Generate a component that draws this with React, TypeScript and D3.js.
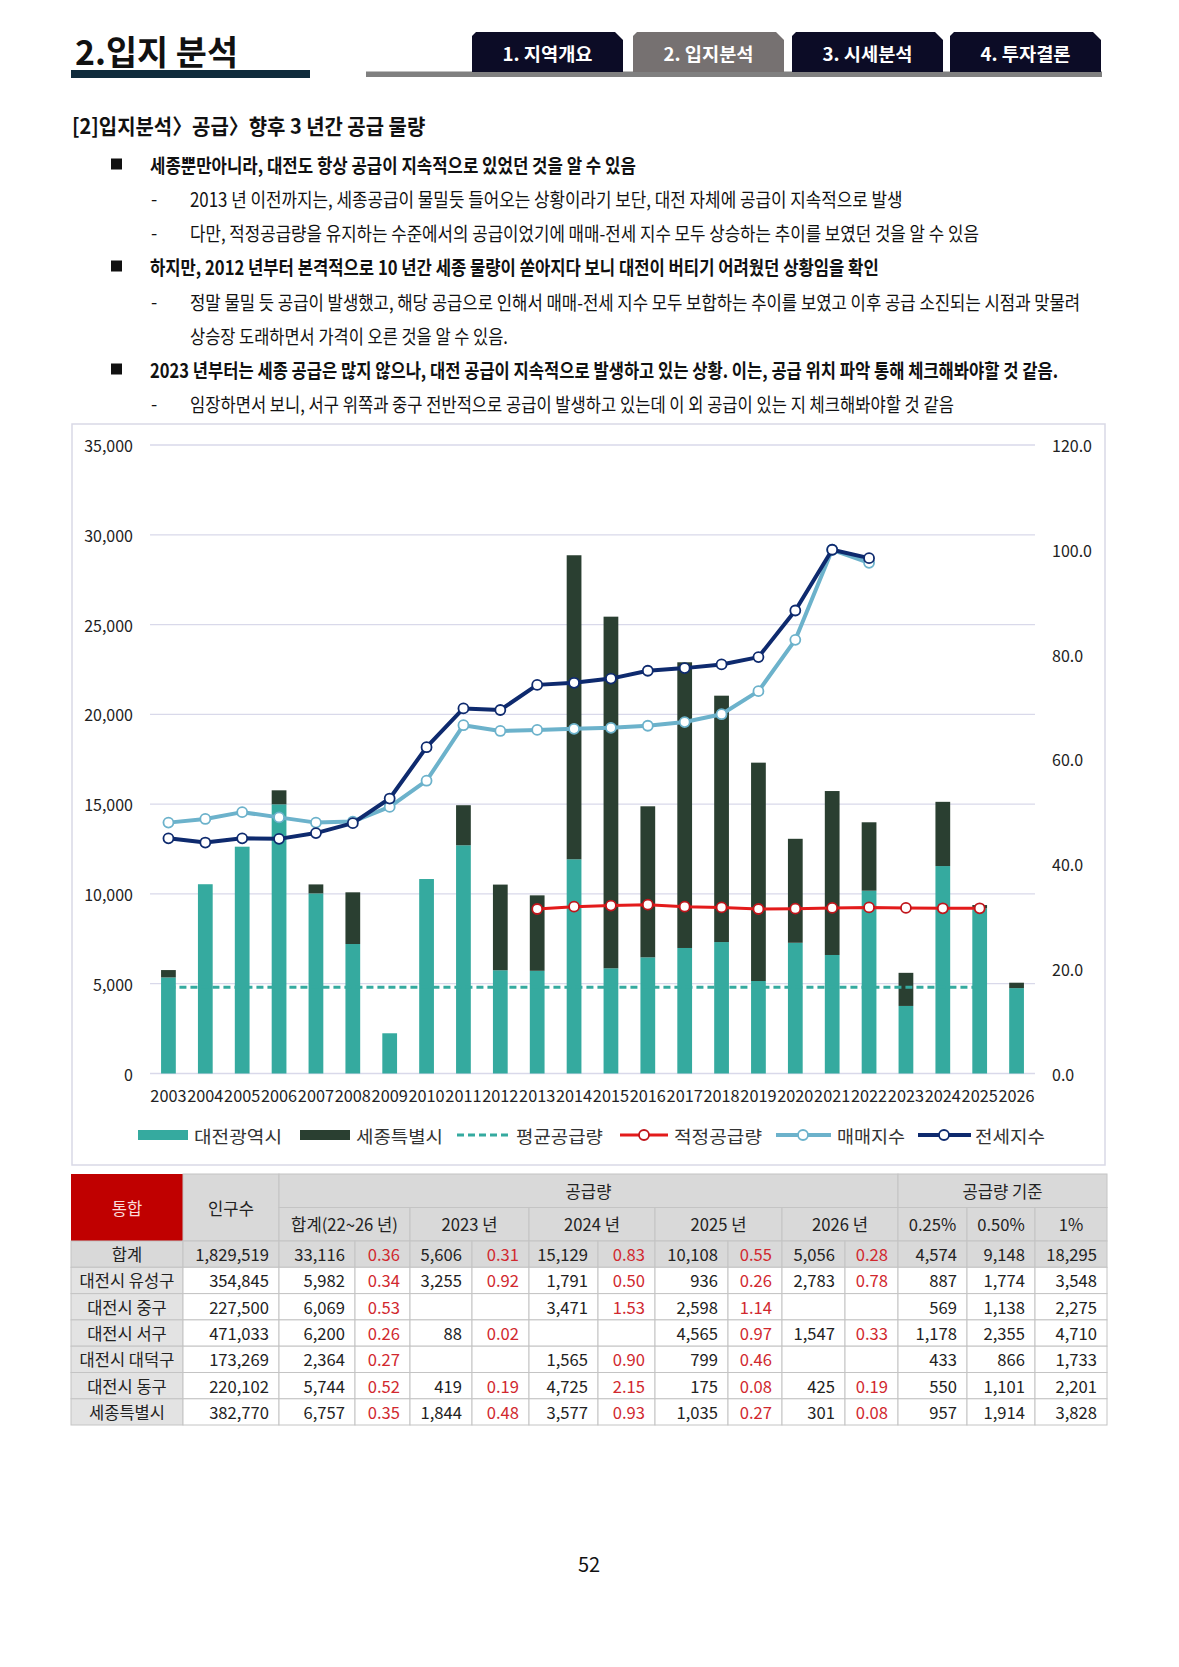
import { useLayoutEffect, useRef, useState } from "react"
import * as d3 from "d3"

// ---- chart data ----
const years = [
  "2003", "2004", "2005", "2006", "2007", "2008", "2009", "2010", "2011", "2012", "2013", "2014",
  "2015", "2016", "2017", "2018", "2019", "2020", "2021", "2022", "2023", "2024", "2025", "2026",
]
// 대전광역시 공급량
const daejeon = [
  5350, 10540, 12630, 14990, 10030, 7210, 2240, 10830, 12710, 5750, 5720, 11930,
  5860, 6470, 6990, 7320, 5150, 7280, 6600, 10180, 3762, 11552, 9200, 4755,
]
// 세종특별시 공급량
const sejong = [
  410, 0, 0, 780, 500, 2880, 0, 0, 2230, 4770, 4200, 16930,
  19580, 8410, 15910, 13720, 12160, 5790, 9130, 3810, 1844, 3577, 180, 301,
]
// 매매지수 / 전세지수 (2003~2022)
const indexYears = years.slice(0, 20)
const saleIndex = [
  47.9, 48.6, 49.9, 48.9, 47.9, 48.1, 50.9, 55.9, 66.5, 65.4,
  65.6, 65.8, 66.0, 66.4, 67.1, 68.6, 73.0, 82.8, 100.0, 97.5,
]
const jeonseIndex = [
  44.9, 44.1, 44.9, 44.8, 45.9, 47.8, 52.5, 62.3, 69.7, 69.4,
  74.2, 74.6, 75.4, 76.9, 77.4, 78.1, 79.5, 88.4, 100.0, 98.4,
]
// 적정공급량 (2013~2025)
const properYears = years.slice(10, 23)
const properSupply = [9160, 9290, 9350, 9400, 9290, 9250, 9160, 9180, 9220, 9250, 9220, 9200, 9200]
// 평균공급량 (2003~2025)
const avgYears = years.slice(0, 23)
const avgSupply = 4800

const leftTicks = [0, 5000, 10000, 15000, 20000, 25000, 30000, 35000]
const rightTicks = [0, 20, 40, 60, 80, 100, 120]

// ---- table data ----
const rowLabels = ["합계", "대전시 유성구", "대전시 중구", "대전시 서구", "대전시 대덕구", "대전시 동구", "세종특별시"]
const population = ["1,829,519", "354,845", "227,500", "471,033", "173,269", "220,102", "382,770"]
const sum2226 = [["33,116", "0.36"], ["5,982", "0.34"], ["6,069", "0.53"], ["6,200", "0.26"], ["2,364", "0.27"], ["5,744", "0.52"], ["6,757", "0.35"]]
const sup2023 = [["5,606", "0.31"], ["3,255", "0.92"], ["", ""], ["88", "0.02"], ["", ""], ["419", "0.19"], ["1,844", "0.48"]]
const sup2024 = [["15,129", "0.83"], ["1,791", "0.50"], ["3,471", "1.53"], ["", ""], ["1,565", "0.90"], ["4,725", "2.15"], ["3,577", "0.93"]]
const sup2025 = [["10,108", "0.55"], ["936", "0.26"], ["2,598", "1.14"], ["4,565", "0.97"], ["799", "0.46"], ["175", "0.08"], ["1,035", "0.27"]]
const sup2026 = [["5,056", "0.28"], ["2,783", "0.78"], ["", ""], ["1,547", "0.33"], ["", ""], ["425", "0.19"], ["301", "0.08"]]
const basis025 = ["4,574", "887", "569", "1,178", "433", "550", "957"]
const basis050 = ["9,148", "1,774", "1,138", "2,355", "866", "1,101", "1,914"]
const basis100 = ["18,295", "3,548", "2,275", "4,710", "1,733", "2,201", "3,828"]
const yearHeaders = ["합계(22~26 년)", "2023 년", "2024 년", "2025 년", "2026 년"]
const basisHeaders = ["0.25%", "0.50%", "1%"]

const tabs = ["1. 지역개요", "2. 입지분석", "3. 시세분석", "4. 투자결론"]

const FONT = "'Noto Sans CJK KR', 'Noto Sans', sans-serif"
const TEAL = "#35aa9f"
const DARK = "#2a3f31"
const NAVY = "#0e2a6e"
const LIGHT = "#6cb2cb"
const RED = "#e31b1b"
const GRID = "#d9d9ea"

const lines = [
  { mark: "sq", text: "세종뿐만아니라, 대전도 항상 공급이 지속적으로 있었던 것을 알 수 있음", x1: 636, y: 164 },
  { mark: "dash", text: "2013 년 이전까지는, 세종공급이 물밀듯 들어오는 상황이라기 보단, 대전 자체에 공급이 지속적으로 발생", x1: 903, y: 198 },
  { mark: "dash", text: "다만, 적정공급량을 유지하는 수준에서의 공급이었기에 매매-전세 지수 모두 상승하는 추이를 보였던 것을 알 수 있음", x1: 979, y: 232 },
  { mark: "sq", text: "하지만, 2012 년부터 본격적으로 10 년간 세종 물량이 쏟아지다 보니 대전이 버티기 어려웠던 상황임을 확인", x1: 879, y: 266 },
  { mark: "dash", text: "정말 물밀 듯 공급이 발생했고, 해당 공급으로 인해서 매매-전세 지수 모두 보합하는 추이를 보였고 이후 공급 소진되는 시점과 맞물려", x1: 1081, y: 301 },
  { mark: "none", text: "상승장 도래하면서 가격이 오른 것을 알 수 있음.", x1: 508, y: 335 },
  { mark: "sq", text: "2023 년부터는 세종 공급은 많지 않으나, 대전 공급이 지속적으로 발생하고 있는 상황. 이는, 공급 위치 파악 통해 체크해봐야할 것 같음.", x1: 1058, y: 369 },
  { mark: "dash", text: "임장하면서 보니, 서구 위쪽과 중구 전반적으로 공급이 발생하고 있는데 이 외 공급이 있는 지 체크해봐야할 것 같음", x1: 954, y: 403 },
]

// condensed text: drawn small, then stretched to the measured width of the reference
function FitText({ x, y, width, size, weight, children }: { x: number; y: number; width: number; size: number; weight?: number; children: string }) {
  const ref = useRef<SVGTextElement>(null)
  const [sx, setSx] = useState(1)
  const base = 14
  useLayoutEffect(() => {
    if (!ref.current) return
    const w = ref.current.getComputedTextLength()
    if (w > 0) setSx(width / w)
  }, [width, children])
  return (
    <text
      ref={ref}
      transform={`translate(${x},${y}) scale(${sx},${size / base})`}
      dominantBaseline="central"
      fontSize={base}
      fontWeight={weight || 400}
      fill="#111"
    >
      {children}
    </text>
  )
}

function Chart() {
  const left = 150, right = 1035, top = 445, bottom = 1073.5
  const x = d3.scaleBand<string>().domain(years).range([left, right]).paddingInner(0.6).paddingOuter(0.3)
  const yL = d3.scaleLinear().domain([0, 35000]).range([bottom, top])
  const yR = d3.scaleLinear().domain([0, 120]).range([bottom, top])
  const cx = (yr: string) => (x(yr) || 0) + x.bandwidth() / 2
  const fmtL = d3.format(",")
  const fmtR = d3.format(".1f")

  const lineR = d3.line<[string, number]>().x((d) => cx(d[0])).y((d) => yR(d[1]))
  const lineL = d3.line<[string, number]>().x((d) => cx(d[0])).y((d) => yL(d[1]))
  const sale = indexYears.map((y, i) => [y, saleIndex[i]] as [string, number])
  const jeonse = indexYears.map((y, i) => [y, jeonseIndex[i]] as [string, number])
  const proper = properYears.map((y, i) => [y, properSupply[i]] as [string, number])
  const avg = avgYears.map((y) => [y, avgSupply] as [string, number])

  const legendY = 1135
  return (
    <g>
      <rect x={72} y={424} width={1033} height={741} fill="#fff" stroke="#d9d9e6" strokeWidth={1.5} />
      {leftTicks.map((t) => (
        <g key={t}>
          <line x1={left} x2={right} y1={yL(t)} y2={yL(t)} stroke={GRID} strokeWidth={1.3} />
          <text x={133} y={yL(t)} textAnchor="end" dominantBaseline="central" fontSize={16} fill="#222">{fmtL(t)}</text>
        </g>
      ))}
      {rightTicks.map((t) => (
        <text key={t} x={1052} y={yR(t)} dominantBaseline="central" fontSize={16} fill="#222">{fmtR(t)}</text>
      ))}
      {years.map((yr, i) => (
        <g key={yr}>
          <rect x={x(yr)} y={yL(daejeon[i])} width={x.bandwidth()} height={yL(0) - yL(daejeon[i])} fill={TEAL} />
          {sejong[i] > 0 && (
            <rect x={x(yr)} y={yL(daejeon[i] + sejong[i])} width={x.bandwidth()} height={yL(daejeon[i]) - yL(daejeon[i] + sejong[i])} fill={DARK} />
          )}
          <text x={cx(yr)} y={1095} textAnchor="middle" dominantBaseline="central" fontSize={16.3} fill="#222">{yr}</text>
        </g>
      ))}
      <path d={lineL(avg) || ""} fill="none" stroke={TEAL} strokeWidth={3} strokeDasharray="7,4" />
      <path d={lineL(proper) || ""} fill="none" stroke={RED} strokeWidth={3} />
      {proper.map((d) => (
        <circle key={d[0]} cx={cx(d[0])} cy={yL(d[1])} r={5} fill="#fff" stroke="#c0151b" strokeWidth={1.8} />
      ))}
      <path d={lineR(sale) || ""} fill="none" stroke={LIGHT} strokeWidth={4} strokeLinejoin="round" />
      {sale.map((d) => (
        <circle key={d[0]} cx={cx(d[0])} cy={yR(d[1])} r={5} fill="#fff" stroke={LIGHT} strokeWidth={1.8} />
      ))}
      <path d={lineR(jeonse) || ""} fill="none" stroke={NAVY} strokeWidth={4} strokeLinejoin="round" />
      {jeonse.map((d) => (
        <circle key={d[0]} cx={cx(d[0])} cy={yR(d[1])} r={5} fill="#fff" stroke={NAVY} strokeWidth={1.8} />
      ))}

      {/* legend */}
      <rect x={138} y={legendY - 5} width={50} height={10} fill={TEAL} />
      <text x={194} y={legendY} dominantBaseline="central" fontSize={17} textLength={88} lengthAdjust="spacingAndGlyphs" fill="#333">대전광역시</text>
      <rect x={300} y={legendY - 5} width={50} height={10} fill={DARK} />
      <text x={356} y={legendY} dominantBaseline="central" fontSize={17} textLength={87} lengthAdjust="spacingAndGlyphs" fill="#333">세종특별시</text>
      <line x1={457} x2={508} y1={legendY} y2={legendY} stroke={TEAL} strokeWidth={3} strokeDasharray="7,4" />
      <text x={516} y={legendY} dominantBaseline="central" fontSize={17} textLength={87} lengthAdjust="spacingAndGlyphs" fill="#333">평균공급량</text>
      <line x1={620} x2={668} y1={legendY} y2={legendY} stroke={RED} strokeWidth={3} />
      <circle cx={644} cy={legendY} r={5} fill="#fff" stroke="#c0151b" strokeWidth={1.8} />
      <text x={674} y={legendY} dominantBaseline="central" fontSize={17} textLength={88} lengthAdjust="spacingAndGlyphs" fill="#333">적정공급량</text>
      <line x1={776} x2={831} y1={legendY} y2={legendY} stroke={LIGHT} strokeWidth={4} />
      <circle cx={803} cy={legendY} r={5} fill="#fff" stroke={LIGHT} strokeWidth={1.8} />
      <text x={837} y={legendY} dominantBaseline="central" fontSize={17} textLength={68} lengthAdjust="spacingAndGlyphs" fill="#333">매매지수</text>
      <line x1={918} x2={971} y1={legendY} y2={legendY} stroke={NAVY} strokeWidth={4} />
      <circle cx={944} cy={legendY} r={5} fill="#fff" stroke={NAVY} strokeWidth={1.8} />
      <text x={975} y={legendY} dominantBaseline="central" fontSize={17} textLength={70} lengthAdjust="spacingAndGlyphs" fill="#333">전세지수</text>
    </g>
  )
}

function Table() {
  const cols = [71, 183, 279, 355, 410, 472, 529, 598, 655, 728, 782, 845, 898, 967, 1035, 1107]
  const rowsY = [1174, 1207.5, 1241, 1267.3, 1293.6, 1319.9, 1346.2, 1372.5, 1398.8, 1425]
  const border = "#c4c4c4"
  const hdrBg = "#d9d9d9"
  const fs = 16.6
  const pairs = [sum2226, sup2023, sup2024, sup2025, sup2026]
  const cells: JSX.Element[] = []

  // header
  cells.push(<rect key="h-tong" x={cols[0]} y={rowsY[0]} width={cols[1] - cols[0]} height={rowsY[2] - rowsY[0]} fill="#c00000" />)
  cells.push(<text key="t-tong" x={(cols[0] + cols[1]) / 2} y={(rowsY[0] + rowsY[2]) / 2} textAnchor="middle" dominantBaseline="central" fontSize={fs} fill="#fbdcdc">통합</text>)
  cells.push(<rect key="h-pop" x={cols[1]} y={rowsY[0]} width={cols[2] - cols[1]} height={rowsY[2] - rowsY[0]} fill={hdrBg} stroke={border} />)
  cells.push(<text key="t-pop" x={(cols[1] + cols[2]) / 2} y={(rowsY[0] + rowsY[2]) / 2} textAnchor="middle" dominantBaseline="central" fontSize={fs} fill="#222">인구수</text>)
  cells.push(<rect key="h-sup" x={cols[2]} y={rowsY[0]} width={cols[12] - cols[2]} height={rowsY[1] - rowsY[0]} fill={hdrBg} stroke={border} />)
  cells.push(<text key="t-sup" x={(cols[2] + cols[12]) / 2} y={(rowsY[0] + rowsY[1]) / 2} textAnchor="middle" dominantBaseline="central" fontSize={fs} fill="#222">공급량</text>)
  cells.push(<rect key="h-bas" x={cols[12]} y={rowsY[0]} width={cols[15] - cols[12]} height={rowsY[1] - rowsY[0]} fill={hdrBg} stroke={border} />)
  cells.push(<text key="t-bas" x={(cols[12] + cols[15]) / 2} y={(rowsY[0] + rowsY[1]) / 2} textAnchor="middle" dominantBaseline="central" fontSize={fs} fill="#222">공급량 기준</text>)
  yearHeaders.forEach((h, i) => {
    const a = cols[2 + i * 2], b = cols[4 + i * 2]
    cells.push(<rect key={"yh" + i} x={a} y={rowsY[1]} width={b - a} height={rowsY[2] - rowsY[1]} fill={hdrBg} stroke={border} />)
    cells.push(<text key={"yt" + i} x={(a + b) / 2} y={(rowsY[1] + rowsY[2]) / 2} textAnchor="middle" dominantBaseline="central" fontSize={fs} fill="#222">{h}</text>)
  })
  basisHeaders.forEach((h, i) => {
    const a = cols[12 + i], b = cols[13 + i]
    cells.push(<rect key={"bh" + i} x={a} y={rowsY[1]} width={b - a} height={rowsY[2] - rowsY[1]} fill={hdrBg} stroke={border} />)
    cells.push(<text key={"bt" + i} x={(a + b) / 2} y={(rowsY[1] + rowsY[2]) / 2} textAnchor="middle" dominantBaseline="central" fontSize={fs} fill="#222">{h}</text>)
  })

  // body
  rowLabels.forEach((label, r) => {
    const y0 = rowsY[2 + r], y1 = rowsY[3 + r], ym = (y0 + y1) / 2
    const rowBg = r === 0 ? hdrBg : "#fff"
    const vals: { v: string; red: boolean }[] = [{ v: population[r], red: false }]
    pairs.forEach((p) => {
      vals.push({ v: p[r][0], red: false })
      vals.push({ v: p[r][1], red: true })
    })
    vals.push({ v: basis025[r], red: false }, { v: basis050[r], red: false }, { v: basis100[r], red: false })
    cells.push(<rect key={"lb" + r} x={cols[0]} y={y0} width={cols[1] - cols[0]} height={y1 - y0} fill={r === 0 ? hdrBg : "#e3e3e3"} stroke={border} />)
    cells.push(<text key={"lt" + r} x={(cols[0] + cols[1]) / 2} y={ym} textAnchor="middle" dominantBaseline="central" fontSize={16.5} fill="#222">{label}</text>)
    vals.forEach((c, k) => {
      const a = cols[1 + k], b = cols[2 + k]
      cells.push(<rect key={`c${r}-${k}`} x={a} y={y0} width={b - a} height={y1 - y0} fill={rowBg} stroke={border} />)
      if (c.v)
        cells.push(
          <text key={`v${r}-${k}`} x={b - 10} y={ym} textAnchor="end" dominantBaseline="central" fontSize={fs} fill={c.red ? "#d1282e" : "#222"}>{c.v}</text>
        )
    })
  })
  return <g>{cells}</g>
}

function Header() {
  const tabX = [472, 633, 792, 950]
  const tabW = 151
  return (
    <g>
      <text x={75} y={50} dominantBaseline="central" fontSize={34} fontWeight={700} fill="#111" textLength={163} lengthAdjust="spacingAndGlyphs">2.입지 분석</text>
      <rect x={71} y={70} width={239} height={8} fill="#0f2b3c" />
      <rect x={366} y={71.5} width={736} height={5.5} fill="#808080" />
      {tabs.map((t, i) => {
        const x0 = tabX[i], x1 = x0 + tabW, t0 = 32, b0 = 72
        const d = `M${x0},${b0} L${x0},${t0 + 4} L${x0 + 4},${t0} L${x1 - 8},${t0} L${x1},${t0 + 8} L${x1},${b0} Z`
        return (
          <g key={t}>
            <path d={d} fill={i === 1 ? "#767171" : "#0c0c26"} />
            <text x={(x0 + x1) / 2} y={53} textAnchor="middle" dominantBaseline="central" fontSize={18} fontWeight={700} fill="#fff" textLength={90} lengthAdjust="spacingAndGlyphs">{t}</text>
          </g>
        )
      })}
      <FitText x={72} y={125} width={353} size={21} weight={700}>[2]입지분석〉공급〉향후 3 년간 공급 물량</FitText>
      {lines.map((l, i) => {
        const tx = l.mark === "sq" ? 150 : 190
        return (
          <g key={i}>
            {l.mark === "sq" && <rect x={111} y={l.y - 5.5} width={11} height={11} fill="#111" />}
            {l.mark === "dash" && <text x={154} y={l.y} textAnchor="middle" dominantBaseline="central" fontSize={18} fill="#111">-</text>}
            <FitText x={tx} y={l.y} width={l.x1 - tx} size={19.5} weight={l.mark === "sq" ? 700 : 400}>{l.text}</FitText>
          </g>
        )
      })}
    </g>
  )
}

export default function App() {
  return (
    <svg
      width={1179}
      height={1667}
      viewBox="0 0 1179 1667"
      style={{ position: "absolute", left: 0, top: 0, background: "#fff", fontFamily: FONT }}
    >
      <rect width={1179} height={1667} fill="#fff" />
      <Header />
      <Chart />
      <Table />
      <text x={589} y={1563} textAnchor="middle" dominantBaseline="central" fontSize={20} fill="#111">52</text>
    </svg>
  )
}
